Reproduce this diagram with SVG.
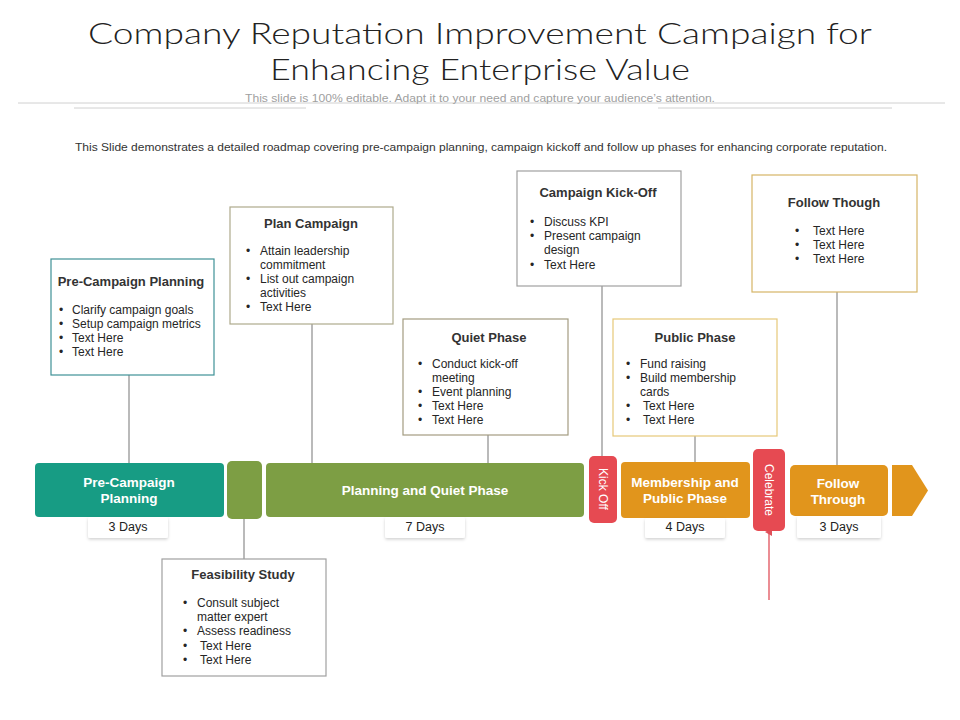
<svg xmlns="http://www.w3.org/2000/svg" width="960" height="720" viewBox="0 0 960 720">
<style>
.t{font-family:"Liberation Sans",Arial,sans-serif;fill:#262626}
.h{font-size:13px;font-weight:bold;text-anchor:middle;fill:#333}
.b{font-size:12px}
.bar{font-family:"Liberation Sans",Arial,sans-serif;font-size:13.5px;font-weight:bold;fill:#fff;text-anchor:middle}
.vt{font-family:"Liberation Sans",Arial,sans-serif;font-size:12px;fill:#fff;text-anchor:middle}
.day{font-family:"Liberation Sans",Arial,sans-serif;font-size:12.5px;fill:#222;text-anchor:middle}
.box{fill:#fff;stroke-width:1.2}
.conn{stroke:#8c8c8c;stroke-width:1.2;fill:none}
.dbox{fill:#fff}
.ttl{font-family:Lato,"Open Sans",sans-serif;font-weight:300;font-size:29.5px;fill:#222;text-anchor:middle}
</style>
<defs>
<filter id="sh" x="-20%" y="-30%" width="140%" height="170%">
<feDropShadow dx="0" dy="1.5" stdDeviation="1.5" flood-color="#000" flood-opacity="0.18"/>
</filter>
<marker id="ah" markerWidth="8" markerHeight="8" refX="4" refY="4" orient="auto" markerUnits="userSpaceOnUse">
<path d="M0,7 L4,0 L8,7 Z" fill="#e0505a"/>
</marker>
</defs>
<rect width="960" height="720" fill="#fff"/>

<g id="title">
<text class="ttl" x="480" y="44" textLength="784" lengthAdjust="spacingAndGlyphs">Company Reputation Improvement Campaign for</text>
<text class="ttl" x="480" y="80" textLength="420" lengthAdjust="spacingAndGlyphs">Enhancing Enterprise Value</text>
<line x1="18" y1="103" x2="945" y2="103" stroke="#d0d0d0" stroke-width="1"/>
<line x1="74" y1="108" x2="306" y2="108" stroke="#d0d0d0" stroke-width="1"/>
<line x1="658" y1="108" x2="892" y2="108" stroke="#d0d0d0" stroke-width="1"/>
<rect x="243" y="90" width="474" height="12" fill="#fff"/>
<text x="480" y="102" font-family="'Liberation Sans',Arial,sans-serif" font-size="10.5" fill="#a0a0a0" text-anchor="middle" textLength="470" lengthAdjust="spacingAndGlyphs">This slide is 100% editable. Adapt it to your need and capture your audience’s attention.</text>
<text x="481" y="151" font-family="'Liberation Sans',Arial,sans-serif" font-size="10.5" fill="#333" text-anchor="middle" textLength="812" lengthAdjust="spacingAndGlyphs">This Slide demonstrates a detailed roadmap covering pre-campaign planning, campaign kickoff and follow up phases for enhancing corporate reputation.</text>
</g>

<g id="connectors">
<line class="conn" x1="129" y1="375" x2="129" y2="463"/>
<line class="conn" x1="312" y1="324" x2="312" y2="463"/>
<line class="conn" x1="488" y1="435" x2="488" y2="463"/>
<line class="conn" x1="602" y1="286" x2="602" y2="456"/>
<line class="conn" x1="695" y1="436" x2="695" y2="462"/>
<line class="conn" x1="837" y1="292" x2="837" y2="465"/>
<line class="conn" x1="244" y1="519" x2="244" y2="559"/>
<line x1="769" y1="600" x2="769" y2="532" stroke="#e0505a" stroke-width="1.3" marker-end="url(#ah)"/>
</g>

<g id="box-precampaign">
<rect class="box" x="51" y="259" width="163" height="116" stroke="#3f9196"/>
<text class="t h" x="131" y="286">Pre-Campaign Planning</text>
<text class="t b"><tspan x="59" y="314">•</tspan><tspan x="72" y="314">Clarify campaign goals</tspan><tspan x="59" y="328">•</tspan><tspan x="72" y="328">Setup campaign metrics</tspan><tspan x="59" y="342">•</tspan><tspan x="72" y="342">Text Here</tspan><tspan x="59" y="356">•</tspan><tspan x="72" y="356">Text Here</tspan></text>
</g>

<g id="box-plan">
<rect class="box" x="230" y="207" width="163" height="117" stroke="#aeaa8c"/>
<text class="t h" x="311" y="228">Plan Campaign</text>
<text class="t b"><tspan x="246" y="255">•</tspan><tspan x="260" y="255">Attain leadership</tspan><tspan x="260" y="269">commitment</tspan><tspan x="246" y="283">•</tspan><tspan x="260" y="283">List out campaign</tspan><tspan x="260" y="297">activities</tspan><tspan x="246" y="311">•</tspan><tspan x="260" y="311">Text Here</tspan></text>
</g>

<g id="box-quiet">
<rect class="box" x="403" y="319" width="165" height="116" stroke="#a39c80"/>
<text class="t h" x="489" y="342">Quiet Phase</text>
<text class="t b"><tspan x="418" y="368">•</tspan><tspan x="432" y="368">Conduct kick-off</tspan><tspan x="432" y="382">meeting</tspan><tspan x="418" y="396">•</tspan><tspan x="432" y="396">Event planning</tspan><tspan x="418" y="410">•</tspan><tspan x="432" y="410">Text Here</tspan><tspan x="418" y="424">•</tspan><tspan x="432" y="424">Text Here</tspan></text>
</g>

<g id="box-kickoff">
<rect class="box" x="517" y="171" width="164" height="115" stroke="#a0a0a0"/>
<text class="t h" x="598" y="197">Campaign Kick-Off</text>
<text class="t b"><tspan x="530" y="226">•</tspan><tspan x="544" y="226">Discuss KPI</tspan><tspan x="530" y="240">•</tspan><tspan x="544" y="240">Present campaign</tspan><tspan x="544" y="254">design</tspan><tspan x="530" y="269">•</tspan><tspan x="544" y="269">Text Here</tspan></text>
</g>

<g id="box-public">
<rect class="box" x="613" y="319" width="164" height="117" stroke="#e6c878"/>
<text class="t h" x="695" y="342">Public Phase</text>
<text class="t b"><tspan x="626" y="368">•</tspan><tspan x="640" y="368">Fund raising</tspan><tspan x="626" y="382">•</tspan><tspan x="640" y="382">Build membership</tspan><tspan x="640" y="396">cards</tspan><tspan x="626" y="410">•</tspan><tspan x="643" y="410">Text Here</tspan><tspan x="626" y="424">•</tspan><tspan x="643" y="424">Text Here</tspan></text>
</g>

<g id="box-follow">
<rect class="box" x="752" y="175" width="165" height="117" stroke="#d6b566"/>
<text class="t h" x="834" y="207">Follow Though</text>
<text class="t b"><tspan x="795" y="235">•</tspan><tspan x="813" y="235">Text Here</tspan><tspan x="795" y="249">•</tspan><tspan x="813" y="249">Text Here</tspan><tspan x="795" y="263">•</tspan><tspan x="813" y="263">Text Here</tspan></text>
</g>

<g id="box-feasibility">
<rect class="box" x="162" y="559" width="164" height="117" stroke="#a0a0a0"/>
<text class="t h" x="243" y="579">Feasibility Study</text>
<text class="t b"><tspan x="183" y="607">•</tspan><tspan x="197" y="607">Consult subject</tspan><tspan x="197" y="621">matter expert</tspan><tspan x="183" y="635">•</tspan><tspan x="197" y="635">Assess readiness</tspan><tspan x="183" y="650">•</tspan><tspan x="200" y="650">Text Here</tspan><tspan x="183" y="664">•</tspan><tspan x="200" y="664">Text Here</tspan></text>
</g>

<g id="bar-precampaign">
<rect x="35" y="463" width="189" height="54" rx="4" fill="#179c84"/>
<text class="bar" x="129" y="487">Pre-Campaign</text>
<text class="bar" x="129" y="503">Planning</text>
<rect class="dbox" x="88" y="517" width="80" height="21" rx="2" filter="url(#sh)"/>
<text class="day" x="128" y="531">3 Days</text>
</g>

<g id="bar-feasibility">
<rect x="227" y="461" width="35" height="58" rx="5" fill="#7d9e44"/>
</g>

<g id="bar-planning">
<rect x="266" y="463" width="318" height="54" rx="4" fill="#7d9e44"/>
<text class="bar" x="425" y="495">Planning and Quiet Phase</text>
<rect class="dbox" x="385" y="517" width="80" height="21" rx="2" filter="url(#sh)"/>
<text class="day" x="425" y="531">7 Days</text>
</g>

<g id="bar-kickoff">
<rect x="589" y="456" width="28" height="67" rx="5" fill="#e64a52"/>
<text class="vt" transform="translate(599,489) rotate(90)">Kick Off</text>
</g>

<g id="bar-membership">
<rect x="621" y="462" width="129" height="56" rx="4" fill="#e1951c"/>
<text class="bar" x="685" y="487">Membership and</text>
<text class="bar" x="685" y="503">Public Phase</text>
<rect class="dbox" x="645" y="518" width="80" height="20" rx="2" filter="url(#sh)"/>
<text class="day" x="685" y="531">4 Days</text>
</g>

<g id="bar-celebrate">
<rect x="753" y="449" width="32" height="82" rx="5" fill="#e64a52"/>
<text class="vt" transform="translate(765,490) rotate(90)">Celebrate</text>
</g>

<g id="bar-follow">
<rect x="790" y="465" width="98" height="51" rx="5" fill="#e1951c"/>
<text class="bar" x="838" y="488">Follow</text>
<text class="bar" x="838" y="504">Through</text>
<rect class="dbox" x="797" y="516" width="84" height="22" rx="2" filter="url(#sh)"/>
<text class="day" x="839" y="531">3 Days</text>
</g>

<g id="end-arrow">
<path d="M892,465 L912,465 L928,490.5 L912,516 L892,516 Z" fill="#e1951c"/>
</g>
</svg>
